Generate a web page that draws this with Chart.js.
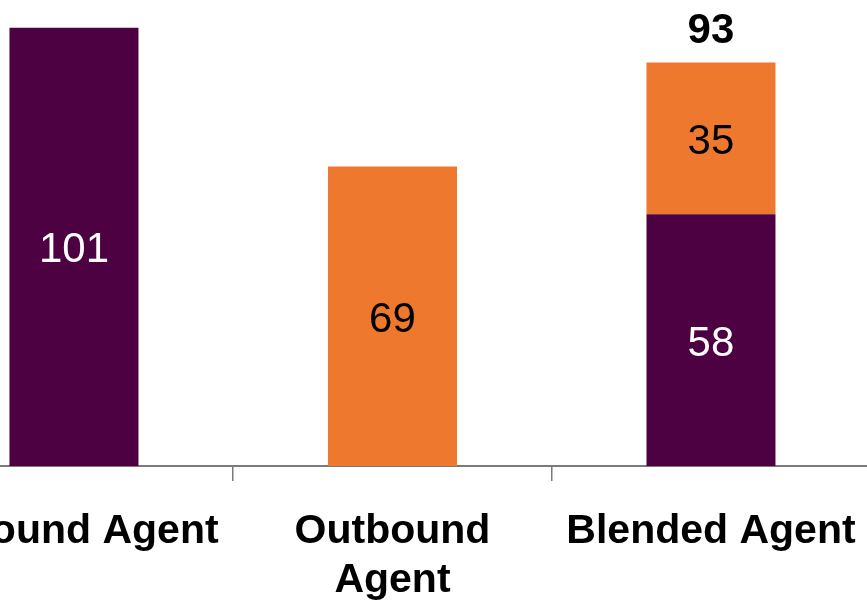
<!DOCTYPE html>
<html>
<head>
<meta charset="utf-8">
<script src="https://cdn.jsdelivr.net/npm/chart.js@4.4.0/dist/chart.umd.min.js"></script>
<style>
  html, body { margin: 0; padding: 0; background: #fff; overflow: hidden; }
  #wrap { position: absolute; left: -95px; top: 0; width: 975px; height: 602px; }
</style>
</head>
<body>
<div id="wrap"><canvas id="chart" width="975" height="602"></canvas></div>
<script>
// ── Data ──
const categories = ['Inbound Agent', ['Outbound', 'Agent'], 'Blended Agent'];
const inboundCalls = [101, null, 58];
const outboundCalls = [null, 69, 35];
const yMax = 107.4;

const PURPLE = '#4d0042';
const ORANGE = '#ee782e';
const FONT = '"Liberation Sans", Arial, sans-serif';

// ── Value labels in each segment + total over stacked bars ──
const barLabels = {
  id: 'barLabels',
  afterDatasetsDraw(chart) {
    const ctx = chart.ctx;
    ctx.save();
    ctx.textAlign = 'center';
    ctx.textBaseline = 'middle';
    ctx.font = '42px ' + FONT;
    chart.data.datasets.forEach((ds, di) => {
      chart.getDatasetMeta(di).data.forEach((bar, i) => {
        const v = ds.data[i];
        if (v == null) return;
        ctx.fillStyle = ds.labelColor;
        ctx.fillText(v, bar.x, (bar.y + bar.base) / 2 + 4);
      });
    });
    // total only where the bar is really stacked
    ctx.font = 'bold 42px ' + FONT;
    ctx.fillStyle = '#000';
    categories.forEach((_, i) => {
      const a = inboundCalls[i], b = outboundCalls[i];
      if (a == null || b == null) return;
      const top = chart.getDatasetMeta(1).data[i];
      ctx.fillText(a + b, top.x, top.y - 31);
    });
    ctx.restore();
  }
};

new Chart(document.getElementById('chart'), {
  type: 'bar',
  data: {
    labels: categories,
    datasets: [
      { label: 'Inbound', data: inboundCalls, backgroundColor: PURPLE, labelColor: '#fff',
        categoryPercentage: 1, barPercentage: 0.405 },
      { label: 'Outbound', data: outboundCalls, backgroundColor: ORANGE, labelColor: '#000',
        categoryPercentage: 1, barPercentage: 0.405 }
    ]
  },
  options: {
    responsive: false,
    devicePixelRatio: 1,
    animation: false,
    layout: { padding: 0 },
    plugins: { legend: { display: false }, tooltip: { enabled: false } },
    scales: {
      x: {
        stacked: true,
        afterFit: s => { s.height = 136; },
        grid: { drawOnChartArea: false, drawTicks: true, tickLength: 15, color: '#7a7a7a', lineWidth: 1.5 },
        border: { display: true, color: '#7a7a7a', width: 2 },
        ticks: { color: '#000', font: { family: FONT, size: 41, weight: 'bold', lineHeight: 1.2 },
          padding: 26, maxRotation: 0, autoSkip: false }
      },
      y: { stacked: true, display: false, min: 0, max: yMax }
    }
  },
  plugins: [barLabels]
});
</script>
</body>
</html>
